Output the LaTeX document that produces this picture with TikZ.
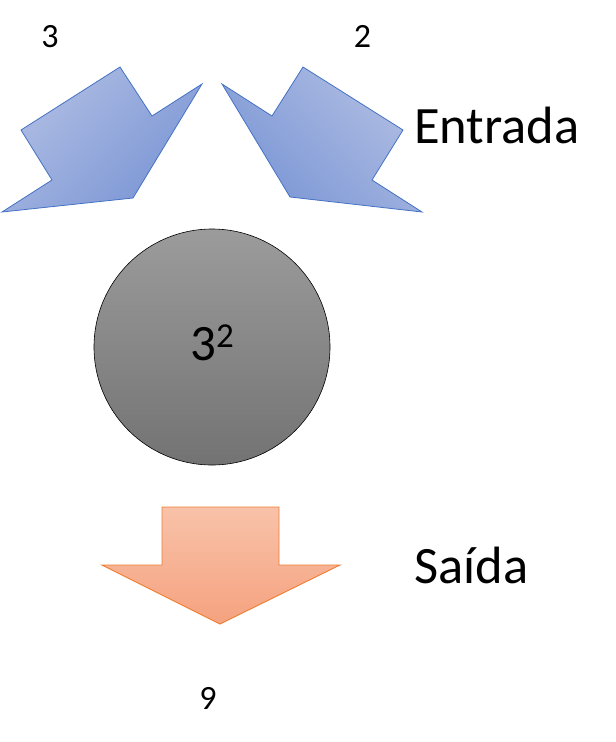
\documentclass[tikz,border=0pt]{standalone}
\usepackage{fontspec}
\setmainfont{Carlito}
\usetikzlibrary{positioning}
\definecolor{inblue}{HTML}{4472C4}
\definecolor{inlight}{HTML}{AFBDE3}
\definecolor{indark}{HTML}{7B96D5}
\definecolor{outorange}{HTML}{ED7D31}
\definecolor{outlight}{HTML}{F8C2A9}
\definecolor{outdark}{HTML}{F5A27F}
\tikzset{
  inarrow/.style={draw=inblue, line width=0.8pt, line join=miter, shading=axis, top color=inlight, bottom color=indark},
  outarrow/.style={draw=outorange, line width=0.9pt, top color=outlight, bottom color=outdark},
  valuelabel/.style={font=\fontsize{34}{40}\selectfont, anchor=base, inner sep=0pt},
  stagelabel/.style={font=\fontsize{52.5}{60}\selectfont, anchor=base west, inner sep=0pt}
}

\begin{document}
\begin{tikzpicture}[x=1pt, y=-1pt]
\useasboundingbox (0,0) rectangle (616,742);
% input arrows
\path [inarrow, shading angle=45] (120,67) -- (152,116) -- (202,84) -- (133,198) -- (2,212) -- (52,180) -- (21,130) -- cycle;
\path [inarrow, shading angle=-45] (303,67) -- (403,130) -- (372,180) -- (422,212) -- (290,197) -- (222,84) -- (272,116) -- cycle;
% operation
\path [draw=black, line width=0.6pt, top color=black!39, bottom color=black!55] (212,347) circle [radius=118];
\node (op) at (212,360) [anchor=base, inner sep=0pt, font=\fontsize{51}{58}\selectfont] {3\raisebox{13pt}{\fontsize{35}{40}\selectfont 2}};
% output arrow
\path [outarrow] (162,507) -- (279,507) -- (279,565) -- (340,565) -- (220,624) -- (102,565) -- (162,565) -- cycle;
% labels
\node (inA) at (50,47) [valuelabel] {3};
\node (inB) at (362.5,47) [valuelabel] {2};
\node (res) at (208,709) [valuelabel] {9};
\node (entrada) at (414,143) [stagelabel] {Entrada};
\node (saida) at (414,583) [stagelabel] {Saída};
\end{tikzpicture}
\end{document}
